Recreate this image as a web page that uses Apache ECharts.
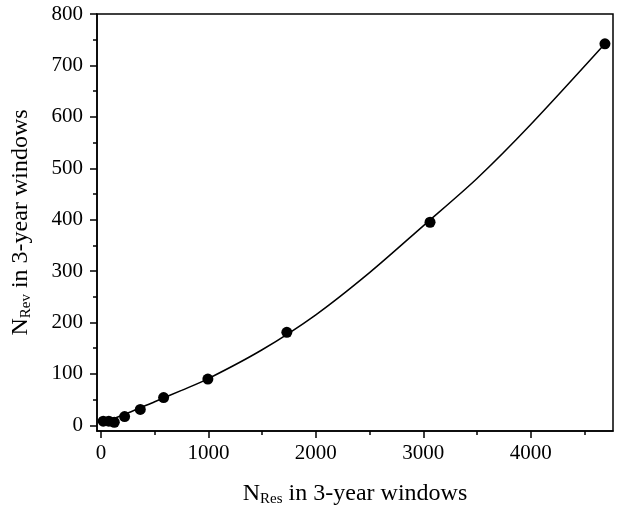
<!DOCTYPE html>
<html>
<head>
<meta charset="utf-8">
<script src="https://cdn.jsdelivr.net/npm/echarts@6/dist/echarts.min.js"></script>
<style>html,body{margin:0;padding:0;background:#fff;}#c{width:618px;height:510px;}</style>
</head>
<body>
<div id="c"></div>
<script>
const xMajorTicks = [0, 1000, 2000, 3000, 4000];
const xMinorTicks = [500, 1500, 2500, 3500, 4500];
const yMajorTicks = [0, 100, 200, 300, 400, 500, 600, 700, 800];
const yMinorTicks = [50, 150, 250, 350, 450, 550, 650, 750];
const resCounts = [21, 73, 124, 220, 366, 583, 995, 1730, 3063, 4691];
const revCounts = [8, 8, 6, 17, 31, 54, 90, 181, 395, 742];
const fitX = [20, 250, 500, 750, 1000, 1500, 2000, 2500, 3000, 3500, 4000, 4691];
const fitY = [5, 24, 46, 68, 91, 147, 215, 297, 388, 480, 585, 742];

const FONT = 'Liberation Serif';
const xMin = -37, xMax = 4766, yMin = -11, yMax = 800;

const chart = echarts.init(document.getElementById('c'), null, {renderer: 'canvas'});
const gridBox = {left: 97, right: 5, top: 14, bottom: 79, containLabel: false, outerBoundsMode: 'none'};
const tickStyle = {color: '#000', width: 1.5};
const richName = {
  n: {fontSize: 24, fontFamily: FONT, color: '#000'},
  s: {fontSize: 15, fontFamily: FONT, color: '#000', padding: [11, 0, 0, 0]}
};
chart.setOption({
  animation: false,
  backgroundColor: '#fff',
  grid: [
    Object.assign({show: true, borderColor: '#000', borderWidth: 1.5}, gridBox),
    Object.assign({show: false}, gridBox)
  ],
  xAxis: [{
    gridIndex: 0, type: 'value', min: xMin, max: xMax, position: 'bottom',
    axisLine: {show: true, onZero: false, lineStyle: tickStyle},
    axisTick: {show: true, inside: false, length: 7, customValues: xMajorTicks, lineStyle: tickStyle},
    axisLabel: {customValues: xMajorTicks, margin: 12, color: '#000', fontFamily: FONT, fontSize: 21,
      formatter: v => String(v)},
    splitLine: {show: false},
    name: '{n|N}{s|Res}{n| in 3-year windows}',
    nameLocation: 'middle', nameGap: 50,
    nameTextStyle: {color: '#000', fontFamily: FONT, rich: richName}
  }, {
    gridIndex: 1, type: 'value', min: xMin, max: xMax, position: 'bottom',
    axisLine: {show: false, onZero: false},
    axisTick: {show: true, inside: false, length: 4, customValues: xMinorTicks, lineStyle: tickStyle},
    axisLabel: {show: false},
    splitLine: {show: false}
  }],
  yAxis: [{
    gridIndex: 0, type: 'value', min: yMin, max: yMax, position: 'left',
    axisLine: {show: true, onZero: false, lineStyle: tickStyle},
    axisTick: {show: true, inside: false, length: 7, customValues: yMajorTicks, lineStyle: tickStyle},
    axisLabel: {customValues: yMajorTicks, margin: 14, color: '#000', fontFamily: FONT, fontSize: 21,
      formatter: v => String(v)},
    splitLine: {show: false},
    name: '{n|N}{s|Rev}{n| in 3-year windows}',
    nameLocation: 'middle', nameGap: 63, nameRotate: 90,
    nameTextStyle: {color: '#000', fontFamily: FONT, rich: richName}
  }, {
    gridIndex: 1, type: 'value', min: yMin, max: yMax, position: 'left',
    axisLine: {show: false, onZero: false},
    axisTick: {show: true, inside: false, length: 4, customValues: yMinorTicks, lineStyle: tickStyle},
    axisLabel: {show: false},
    splitLine: {show: false}
  }],
  series: [{
    type: 'line', xAxisIndex: 0, yAxisIndex: 0,
    data: fitX.map((x, i) => [x, fitY[i]]),
    smooth: 0.3, showSymbol: false, symbol: 'none',
    lineStyle: {color: '#000', width: 1.5}, z: 2
  }, {
    type: 'scatter', xAxisIndex: 0, yAxisIndex: 0,
    data: resCounts.map((x, i) => [x, revCounts[i]]),
    symbol: 'circle', symbolSize: 11,
    itemStyle: {color: '#000', opacity: 1}, z: 3
  }]
});
</script>
</body>
</html>
